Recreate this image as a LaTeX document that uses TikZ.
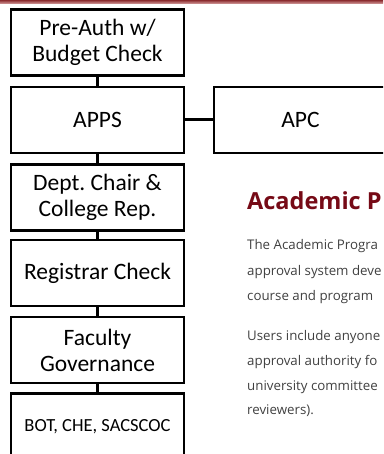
\documentclass[tikz,border=0pt]{standalone}
\usepackage{fontspec}
\setmainfont{Carlito}
\newfontfamily\osans{Open Sans}
\definecolor{titlered}{HTML}{760A16}
\definecolor{bodygrey}{HTML}{404040}
\definecolor{bandtop}{HTML}{8A2B2E}
\definecolor{bandbot}{HTML}{D9A3A3}
\frenchspacing
\begin{document}
\begin{tikzpicture}[x=1pt,y=-1pt,
  box/.style={draw, line width=2.5pt, minimum width=173pt, minimum height=66pt, inner sep=0pt, align=center, font=\fontsize{23.5}{26}\selectfont},
  link/.style={line width=3pt},
  body/.style={anchor=base west, inner sep=0pt, text=bodygrey, font=\osans\fontsize{13.3}{17}\selectfont},
  title/.style={anchor=base west, inner sep=0pt, text=titlered, font=\osans\bfseries\fontsize{23.5}{26}\selectfont}]
\useasboundingbox (0,0) rectangle (383,454);
\clip (0,0) rectangle (383,454);
\shade[top color=bandtop, bottom color=bandbot] (0,0) rectangle (383,4);
\node[box] (pre) at (97.5,42.5) {Pre-Auth w/\\Budget Check};
\node[box] (apps) at (97.5,120) {APPS};
\node[box] (apc) at (300.5,120) {APC};
\node[box] (dept) at (97.5,197.5) {Dept. Chair \&\\College Rep.};
\node[box] (reg) at (97.5,273) {Registrar Check};
\node[box] (fac) at (97.5,350) {Faculty\\Governance};
\node[box, font=\fontsize{18.5}{22}\selectfont] (bot) at (97.5,426.5) {BOT, CHE, SACSCOC};
\draw[link] (pre.south) -- (apps.north);
\draw[link] (apps.east) -- (apc.west);
\draw[link] (apps.south) -- (dept.north);
\draw[link] (dept.south) -- (reg.north);
\draw[link] (reg.south) -- (fac.north);
\draw[link] (fac.south) -- (bot.north);
\node[title] (ttl) at (247,209) {Academic P};
\node[body] (l1) at (247,249.5) {The Academic Progra};
\node[body] (l2) at (247,275) {approval system deve};
\node[body] (l3) at (247,300) {course and program};
\node[body] (l4) at (247,340) {Users include anyone};
\node[body] (l5) at (247,365) {approval authority fo};
\node[body] (l6) at (247,390) {university committee};
\node[body] (l7) at (247,414.5) {reviewers).};
\end{tikzpicture}
\end{document}
